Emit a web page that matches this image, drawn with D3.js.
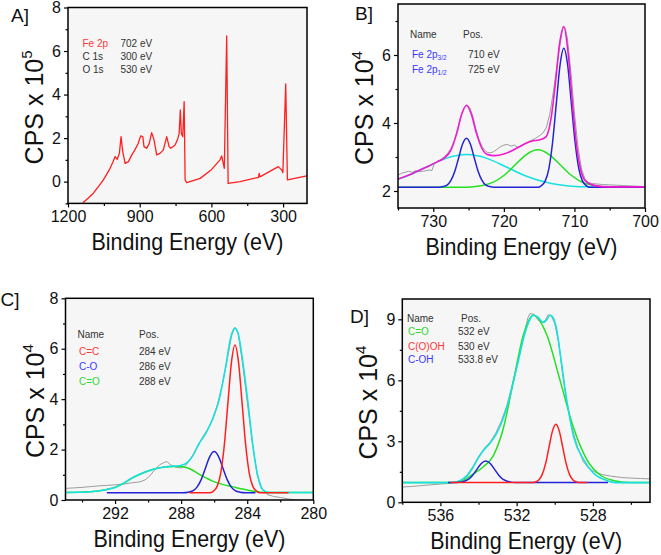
<!DOCTYPE html>
<html><head><meta charset="utf-8">
<script src="https://cdn.jsdelivr.net/npm/d3@7"></script>
<style>
body{margin:0;background:#fff;}
svg text{font-family:"Liberation Sans",Arial,sans-serif;}
</style></head><body>
<svg id="c" width="661" height="555"></svg>
<script>
// ---------------- DATA ----------------
// Panel A: survey spectrum (binding energy eV, CPS x 1e5)
const surveySpectrum = [[1140,-1.05],[1136,-0.96],[1115,-0.75],[1094,-0.53],[1072,-0.22],[1052,0.08],[1036,0.38],[1024,0.61],[1012,0.9],[1003,1.15],[994,1.03],[985,1.30],[978,2.07],[971,1.38],[961,0.84],[947,0.92],[933,1.23],[920,1.46],[906,1.76],[896,2.10],[887,2.07],[882,1.61],[871,1.53],[860,1.76],[850,2.25],[840,1.92],[829,1.23],[815,1.30],[801,1.46],[787,2.07],[777,1.61],[770,1.53],[752,1.68],[742,1.92],[735,2.22],[730,3.29],[726,2.22],[720,2.07],[714,3.68],[710,0.08],[703,-0.05],[647,0.15],[600,0.55],[564,1.0],[557,1.18],[546,0.61],[536,6.69],[530,-0.08],[480,0.0],[403,0.2],[400,0.38],[397,0.22],[320,0.69],[306,0.54],[301,0.41],[289,4.49],[282,0.08],[201,0.26]];
const surveyNames = ["Fe 2p","C 1s","O 1s"];
const surveyPos = ["702 eV","300 eV","530 eV"];
const aXTicks = [1200,900,600,300], aXMinor = [1050,750,450];
const aYTicks = [0,2,4,6,8], aYMinor = [-1,1,3,5,7];

// Panel B: Fe 2p (eV, CPS x 1e4)
const feRaw = [[735,2.47],[734.5,2.52],[734,2.55],[733.5,2.58],[733,2.55],[732.5,2.6],[732,2.57],[731.5,2.58],[731,2.6],[730.5,2.62],[730.2,2.6],[729.9,2.78],[729.5,2.86],[729,2.92],[728.5,3.0],[728,3.1],[727.5,3.25],[727,3.5],[726.5,3.85],[726,4.25],[725.6,4.45],[725.2,4.53],[724.8,4.45],[724.4,4.2],[724,3.85],[723.5,3.5],[723,3.28],[722.5,3.15],[722,3.12],[721.5,3.15],[721,3.22],[720.5,3.3],[720,3.35],[719.5,3.37],[719,3.32],[718.5,3.35],[718,3.28],[717.5,3.33],[717,3.4],[716.5,3.45],[716,3.5],[715.5,3.55],[715,3.62],[714.5,3.7],[714,3.85],[713.5,4.25],[713,4.9],[712.5,5.65],[712,6.35],[711.6,6.85],[711.3,6.8],[711,6.5],[710.5,5.5],[710,4.3],[709.5,3.3],[709,2.65],[708.5,2.35],[708,2.25],[707.5,2.22],[707,2.21],[706,2.19],[705,2.18],[704,2.17],[703,2.16],[702,2.15],[701,2.14],[700,2.13]];
const feBroad = [[735,2.35],[734.0,2.42],[731.1,2.69],[728.2,2.96],[725.3,3.07],[722.4,2.96],[719.5,2.69],[716.6,2.42],[713.7,2.24],[710.8,2.15],[707.9,2.12],[705,2.11],[700,2.11]];
const feSatellite = [[735,2.11],[726.2,2.11],[724.62,2.12],[723.05,2.16],[721.48,2.26],[719.91,2.47],[718.34,2.78],[716.77,3.08],[715.2,3.21],[713.63,3.08],[712.06,2.78],[710.49,2.47],[708.92,2.26],[707.35,2.16],[705.78,2.12],[704.2,2.11],[700,2.11]];
const fe2p = [[735,2.11],[729.2,2.11],[728.6,2.13],[728.05,2.17],[727.5,2.31],[726.95,2.58],[726.4,2.98],[725.85,3.38],[725.3,3.55],[724.75,3.38],[724.2,2.98],[723.65,2.58],[723.1,2.31],[722.55,2.17],[722.0,2.13],[721.4,2.11],[715.2,2.11],[714.68,2.16],[714.15,2.29],[713.62,2.66],[713.09,3.44],[712.56,4.59],[712.03,5.72],[711.5,6.20],[710.97,5.72],[710.44,4.59],[709.91,3.44],[709.38,2.66],[708.85,2.29],[708.32,2.16],[707.8,2.11],[700,2.11]];
const feEnvelope = [[735,2.35],[733,2.51],[731,2.70],[729.5,2.85],[728.5,2.96],[727.5,3.20],[726.7,3.68],[726,4.24],[725.3,4.52],[724.6,4.25],[723.9,3.71],[723.1,3.25],[722.3,3.07],[721.3,3.04],[720,3.09],[719,3.17],[718,3.28],[717,3.39],[716,3.47],[715,3.5],[714,3.6],[713.3,4.15],[712.7,5.16],[712.1,6.34],[711.5,6.83],[710.9,6.07],[710.3,4.63],[709.7,3.34],[709.1,2.61],[708.5,2.31],[707.5,2.18],[706,2.13],[704,2.12],[700,2.12]];
const feNames = ["Fe 2p","Fe 2p"], feSubs = ["3/2","1/2"], fePos = ["710 eV","725 eV"];
const bXTicks = [730,720,710,700], bXMinor = [735,725,715,705];
const bYTicks = [2,4,6], bYMinor = [3,5,7];

// Panel C: C 1s
const cRaw = [[295,0.46],[294.5,0.48],[294,0.5],[293.5,0.53],[293,0.56],[292.5,0.58],[292,0.6],[291.5,0.63],[291,0.68],[290.5,0.72],[290.2,0.79],[289.9,0.95],[289.6,1.2],[289.3,1.4],[289.0,1.5],[288.85,1.52],[288.6,1.38],[288.3,1.3],[288.0,1.27],[287.75,1.35],[287.4,1.65],[287.0,2.15],[286.7,2.5],[286.4,2.8],[286.1,3.2],[285.8,3.8],[285.5,4.6],[285.2,5.6],[284.95,6.5],[284.75,6.85],[284.55,6.6],[284.3,5.5],[284.0,3.9],[283.7,2.3],[283.4,1.0],[283.1,0.45],[282.8,0.22],[282.4,0.14],[282,0.1],[281.5,0.04],[281,0.0],[280,-0.02]];
const cCO2 = [[295,0.3],[293.5,0.33],[292.5,0.42],[292,0.5],[291.5,0.66],[291,0.86],[290.5,1.02],[290,1.15],[289.5,1.25],[289,1.31],[288.5,1.33],[288.1,1.33],[287.7,1.29],[287.3,1.18],[286.9,1.02],[286.5,0.88],[286.1,0.75],[285.5,0.62],[284.9,0.53],[284.3,0.44],[283.7,0.36],[283.2,0.31],[282.5,0.3],[280,0.3]];
const cEnvelope = [[295,0.3],[293.5,0.33],[292.5,0.42],[292,0.5],[291.5,0.66],[291,0.86],[290.5,1.02],[290,1.15],[289.5,1.25],[289,1.31],[288.5,1.34],[288.1,1.36],[287.7,1.45],[287.3,1.75],[286.9,2.25],[286.5,2.65],[286.1,3.2],[285.7,3.97],[285.3,5.3],[285.0,6.45],[284.75,6.81],[284.55,6.6],[284.25,5.4],[283.95,3.84],[283.65,2.12],[283.35,0.93],[283.05,0.40],[282.7,0.3],[280,0.3]];
const cCO = [[292.5,0.29],[287.9,0.29],[287.56,0.31],[287.3,0.36],[287.04,0.51],[286.78,0.82],[286.52,1.28],[286.26,1.73],[286.0,1.92],[285.74,1.73],[285.48,1.28],[285.22,0.82],[284.96,0.51],[284.7,0.36],[284.44,0.31],[284.1,0.29],[283.5,0.29]];
const cCC = [[287.5,0.29],[286.24,0.29],[286.03,0.36],[285.815,0.55],[285.6,1.08],[285.385,2.19],[285.17,3.84],[284.955,5.46],[284.74,6.15],[284.525,5.46],[284.31,3.84],[284.095,2.19],[283.88,1.08],[283.665,0.55],[283.45,0.36],[283.24,0.29],[281.5,0.29]];
const cNames = ["C=C","C-O","C=O"], cPos = ["284 eV","286 eV","288 eV"];
const cXTicks = [292,288,284,280], cXMinor = [294,290,286,282];
const cYTicks = [0,2,4,6,8], cYMinor = [1,3,5,7];

// Panel D: O 1s
const oRaw = [[538,0.75],[537.5,0.78],[537,0.82],[536.5,0.86],[536,0.9],[535.5,0.93],[535.2,1.0],[534.9,1.1],[534.6,1.35],[534.3,1.75],[534.0,2.25],[533.7,2.65],[533.4,2.95],[533.1,3.4],[532.8,4.0],[532.5,4.8],[532.2,5.9],[531.9,7.1],[531.6,8.3],[531.4,9.1],[531.3,9.28],[531.1,9.25],[530.9,9.0],[530.7,8.8],[530.5,8.95],[530.35,9.22],[530.2,9.2],[530.0,8.8],[529.8,7.9],[529.6,6.4],[529.4,5.1],[529.1,3.7],[528.8,2.7],[528.5,2.0],[528.2,1.65],[527.9,1.5],[527.5,1.36],[527,1.28],[526.5,1.22],[526,1.19],[525.5,1.17],[525,1.15]];
const oCO = [[538,0.97],[535.4,0.97],[534.82,1.08],[534.27,1.4],[533.745,1.75],[533.22,2.3],[532.695,3.64],[532.17,5.96],[531.645,8.23],[531.12,9.2],[530.415,8.23],[529.71,5.96],[529.005,3.64],[528.3,2.08],[527.595,1.33],[526.89,1.06],[526.1,0.97],[525,0.97]];
const oEnvelope = [[538,0.97],[535.4,0.97],[535.0,1.05],[534.6,1.3],[534.3,1.7],[534.0,2.2],[533.7,2.6],[533.4,2.9],[533.1,3.3],[532.8,3.9],[532.5,4.7],[532.2,5.8],[531.9,7.0],[531.6,8.2],[531.3,9.0],[531.15,9.2],[530.9,9.12],[530.6,8.85],[530.4,9.0],[530.25,9.2],[530.1,9.1],[529.9,8.5],[529.71,7.3],[529.35,4.9],[529.0,3.2],[528.47,2.08],[527.95,1.42],[527.24,1.06],[526.8,0.97],[525,0.97]];
const oCOH = [[535.6,0.97],[535.27,0.97],[535.03,0.98],[534.795,1.02],[534.56,1.11],[534.325,1.31],[534.09,1.61],[533.855,1.91],[533.62,2.03],[533.385,1.91],[533.15,1.61],[532.915,1.31],[532.68,1.11],[532.445,1.02],[532.21,0.98],[531.97,0.97],[527.2,0.97]];
const oCOOH = [[535.5,0.97],[531.2,0.97],[531.02,1.0],[530.84,1.1],[530.66,1.36],[530.48,1.9],[530.3,2.71],[530.12,3.5],[529.94,3.84],[529.76,3.5],[529.58,2.71],[529.4,1.9],[529.22,1.36],[529.04,1.1],[528.86,1.0],[528.68,0.97],[528.3,0.97]];
const oNames = ["C=O","C(O)OH","C-OH"], oPos = ["532 eV","530 eV","533.8 eV"];
const dXTicks = [536,532,528], dXMinor = [538,534,530,526];
const dYTicks = [0,3,6,9], dYMinor = [1.5,4.5,7.5];

// ---------------- STYLE ----------------
const RED = "#ff1f1f", BLUE = "#2323d6", GREEN = "#22e022", CYAN = "#16e0e0", MAGENTA = "#f01ad2", GRAY = "#9c9c9c";
const TRED = "#ff3636", TBLUE = "#3838ff", TGREEN = "#2fd82f", TDARK = "#333";

const svg = d3.select("#c");

function drawPanel(p){
  const g = svg.append("g");
  const x = d3.scaleLinear().domain(p.xDomain).range([p.left, p.right]);
  const y = d3.scaleLinear().domain(p.yDomain).range([p.bottom, p.top]);
  g.append("rect").attr("x", p.left).attr("y", p.top).attr("width", p.right - p.left).attr("height", p.bottom - p.top).attr("fill", "#f6f6f6");
  const cid = "clip" + p.id;
  g.append("clipPath").attr("id", cid).append("rect").attr("x", p.left).attr("y", p.top).attr("width", p.right - p.left).attr("height", p.bottom - p.top);
  const lg = g.append("g").attr("clip-path", `url(#${cid})`);
  p.series.forEach(s => {
    lg.append("path").datum(s.data)
      .attr("fill", "none").attr("stroke", s.color).attr("stroke-width", s.width)
      .attr("stroke-linejoin", "round")
      .attr("d", d3.line().x(d => x(d[0])).y(d => y(d[1])).curve(s.smooth ? d3.curveMonotoneX : d3.curveLinear));
  });
  // axes
  const xa = g.append("g").attr("transform", `translate(0,${p.bottom})`)
    .call(d3.axisBottom(x).tickValues(p.xTicks).tickSize(4).tickSizeOuter(0).tickFormat(d3.format("d")));
  const xm = g.append("g").attr("transform", `translate(0,${p.bottom})`)
    .call(d3.axisBottom(x).tickValues(p.xMinor).tickSize(2.5).tickSizeOuter(0).tickFormat(""));
  const ya = g.append("g").attr("transform", `translate(${p.left},0)`)
    .call(d3.axisLeft(y).tickValues(p.yTicks).tickSize(4).tickSizeOuter(0).tickPadding(3).tickFormat(d3.format("d")));
  const ym = g.append("g").attr("transform", `translate(${p.left},0)`)
    .call(d3.axisLeft(y).tickValues(p.yMinor).tickSize(2.5).tickSizeOuter(0).tickFormat(""));
  [xa, xm, ya, ym].forEach(a => { a.select(".domain").remove(); a.selectAll("line").attr("stroke", "#000").attr("stroke-width", 1.2); });
  xa.selectAll("text").attr("font-size", 16).attr("fill", "#111").attr("y", 7.5).attr("dy", "0.71em").attr("font-family", "Liberation Sans, Arial, sans-serif");
  ya.selectAll("text").attr("font-size", 16).attr("fill", "#111").attr("font-family", "Liberation Sans, Arial, sans-serif");
  // frame
  g.append("rect").attr("x", p.left).attr("y", p.top).attr("width", p.right - p.left).attr("height", p.bottom - p.top)
    .attr("fill", "none").attr("stroke", "#000").attr("stroke-width", 1.5);
  // x title
  g.append("text").attr("x", (p.left + p.right) / 2).attr("y", p.bottom + 47).attr("text-anchor", "middle")
    .attr("font-size", 24).attr("fill", "#111").attr("textLength", 192).attr("lengthAdjust", "spacingAndGlyphs")
    .text("Binding Energy (eV)");
  // y title
  const yt = g.append("text").attr("transform", `translate(${p.ytx},${(p.top + p.bottom) / 2 + 2}) rotate(-90)`)
    .attr("text-anchor", "middle").attr("font-size", 25).attr("fill", "#111");
  yt.append("tspan").text("CPS x 10");
  yt.append("tspan").attr("font-size", 15).attr("dy", -11).text(p.exp);
  // panel label
  g.append("text").attr("x", p.lab[0]).attr("y", p.lab[1]).attr("font-size", 19).attr("fill", "#111").text(p.label);
  // legend
  const L = p.legend;
  if (L.header) {
    g.append("text").attr("x", L.x1).attr("y", L.header).attr("font-size", 10).attr("fill", TDARK).text("Name");
    g.append("text").attr("x", L.x2h).attr("y", L.header).attr("font-size", 10).attr("fill", TDARK).text("Pos.");
  }
  L.names.forEach((n, i) => {
    const t = g.append("text").attr("x", L.x1n).attr("y", L.rows[i]).attr("font-size", 10).attr("fill", L.colors[i]);
    t.append("tspan").text(n);
    if (L.subs) t.append("tspan").attr("font-size", 6.5).attr("dy", 2.5).text(L.subs[i]);
    g.append("text").attr("x", L.x2).attr("y", L.rows[i]).attr("font-size", 10).attr("fill", TDARK).text(L.pos[i]);
  });
}

drawPanel({id:"A", left:68, right:307, top:7.5, bottom:203.4, xDomain:[1200,200], yDomain:[-1,8],
  xTicks:aXTicks, xMinor:aXMinor, yTicks:aYTicks, yMinor:aYMinor, exp:"5", ytx:43, label:"A]", lab:[11,21.5],
  series:[{data:surveySpectrum, color:RED, width:1.3, smooth:false}],
  legend:{names:surveyNames, pos:surveyPos, colors:[TRED,TDARK,TDARK], x1n:82.5, x2:120.5, rows:[46.5,59.5,72.5]}});

drawPanel({id:"B", left:398, right:645, top:4, bottom:208, xDomain:[735,700], yDomain:[1.5,7.5],
  xTicks:bXTicks, xMinor:bXMinor, yTicks:bYTicks, yMinor:bYMinor, exp:"4", ytx:373, label:"B]", lab:[355,20],
  series:[{data:feRaw, color:GRAY, width:1, smooth:false},
          {data:feBroad, color:CYAN, width:1.5, smooth:true},
          {data:feSatellite, color:GREEN, width:1.5, smooth:true},
          {data:fe2p, color:BLUE, width:1.5, smooth:true},
          {data:feEnvelope, color:MAGENTA, width:1.6, smooth:true}],
  legend:{header:37.5, x1:410, x2h:463, names:feNames, subs:feSubs, pos:fePos, colors:[TBLUE,TBLUE], x1n:412, x2:468, rows:[57.5,72.5]}});

drawPanel({id:"C", left:65.5, right:313.3, top:298.3, bottom:500, xDomain:[295,280], yDomain:[0,8],
  xTicks:cXTicks, xMinor:cXMinor, yTicks:cYTicks, yMinor:cYMinor, exp:"4", ytx:43.5, label:"C]", lab:[0.5,306],
  series:[{data:cRaw, color:GRAY, width:1, smooth:false},
          {data:cCO2, color:GREEN, width:1.5, smooth:true},
          {data:cEnvelope, color:CYAN, width:1.6, smooth:true},
          {data:cCO, color:BLUE, width:1.5, smooth:true},
          {data:cCC, color:RED, width:1.5, smooth:true}],
  legend:{header:338, x1:77.5, x2h:139, names:cNames, pos:cPos, colors:[TRED,TBLUE,TGREEN], x1n:79, x2:139, rows:[355,370,384.5]}});

drawPanel({id:"D", left:402.3, right:650, top:299, bottom:502.3, xDomain:[538,525], yDomain:[0,10],
  xTicks:dXTicks, xMinor:dXMinor, yTicks:dYTicks, yMinor:dYMinor, exp:"4", ytx:377, label:"D]", lab:[350,322.5],
  series:[{data:oRaw, color:GRAY, width:1, smooth:false},
          {data:oCO, color:GREEN, width:1.5, smooth:true},
          {data:oEnvelope, color:CYAN, width:1.6, smooth:true},
          {data:oCOH, color:BLUE, width:1.5, smooth:true},
          {data:oCOOH, color:RED, width:1.5, smooth:true}],
  legend:{header:321.5, x1:407, x2h:461, names:oNames, pos:oPos, colors:[TGREEN,TRED,TBLUE], x1n:408, x2:458, rows:[335,349.5,363]}});
</script></body></html>
